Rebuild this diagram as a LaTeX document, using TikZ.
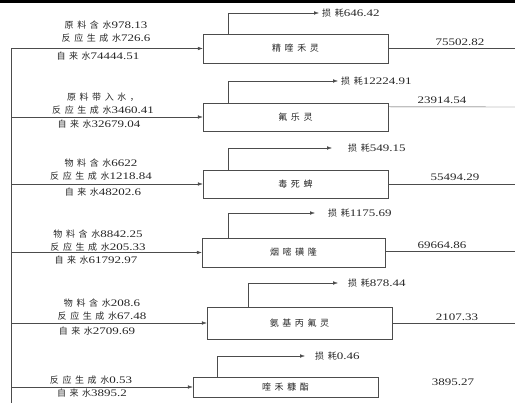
\documentclass[tikz,border=0pt]{standalone}
\usepackage{fontspec}
\setmainfont{Liberation Serif}[FakeStretch=1.3]
\newfontfamily\cjk[LetterSpace=40]{Noto Sans CJK SC}
\usetikzlibrary{arrows.meta,calc}
\newcommand{\zh}[1]{{\cjk\fontsize{9}{13}\selectfont #1}}

\begin{document}
\begin{tikzpicture}[x=1pt, y=-1pt, font=\fontsize{10}{13}\selectfont, text=black!85,
  proc/.style={draw=black!70, inner sep=0pt, minimum width=185pt},
  inlab/.style={align=center, inner sep=0pt},
  loss/.style={anchor=west, inner sep=3pt},
  outlab/.style={inner sep=0pt},
  line/.style={draw=black!70},
  arr/.style={line, -{Latex[length=5pt,width=3.5pt]}}]
\useasboundingbox (0,0) rectangle (515,403);
\clip (0,0) rectangle (515,403);
\draw[line width=3pt] (0,1.5) -- (515,1.5);

% process boxes
\node[proc, minimum height=29pt] (b1) at (295.5,48.5) {\zh{精喹禾灵}};
\node[proc, minimum height=28pt] (b2) at (295.5,117) {\zh{氟乐灵}};
\node[proc, minimum height=28pt] (b3) at (295.5,184) {\zh{毒死蜱}};
\node[proc, minimum width=183pt, minimum height=29pt] (b4) at (293.5,252.5) {\zh{烟嘧磺隆}};
\node[proc, minimum height=32pt] (b5) at (299.5,323) {\zh{氨基丙氟灵}};
\node[proc, minimum height=20pt] (b6) at (285.5,387) {\zh{喹禾糠酯}};

% water inputs
\coordinate (top) at (11,48.5);
\coordinate (bot) at (11,403);
\coordinate (s2) at (11,117);
\coordinate (s3) at (11,184);
\coordinate (s4) at (11,252.5);
\coordinate (s5) at (11,323);
\coordinate (s6) at (11,387);
\draw[line] (top) -- (bot);
\draw[arr] (top) -- (b1.west);
\draw[arr] (s2) -- (b2.west);
\draw[arr] (s3) -- (b3.west);
\draw[arr] (s4) -- (b4.west);
\draw[arr] (s5) -- (b5.west);
\draw[arr] (s6) -- (b6.west);

\node[inlab] (i1) at (106,31.5) {\zh{原料含水}978.13\\\zh{反应生成水}726.6};
\node[inlab] (w1) at (98,56) {\zh{自来水}74444.51};
\node[inlab] (i2) at (103,104) {\zh{原料带入水，}\\\zh{反应生成水}3460.41};
\node[inlab] (w2) at (99,124) {\zh{自来水}32679.04};
\node[inlab] (i3) at (101,170) {\zh{物料含水}6622\\\zh{反应生成水}1218.84};
\node[inlab] (w3) at (103,192) {\zh{自来水}48202.6};
\node[inlab] (i4) at (98,240.5) {\zh{物料含水}8842.25\\\zh{反应生成水}205.33};
\node[inlab] (w4) at (96,260) {\zh{自来水}61792.97};
\node[inlab] (i5) at (102,309.5) {\zh{物料含水}208.6\\\zh{反应生成水}67.48};
\node[inlab] (w5) at (97,331) {\zh{自来水}2709.69};
\node[inlab] (i6) at (91,380) {\zh{反应生成水}0.53};
\node[inlab] (w6) at (92,393) {\zh{自来水}3895.2};

% losses
\node[loss] (l1) at (319,13) {\zh{损耗}646.42};
\node[loss] (l2) at (338,81) {\zh{损耗}12224.91};
\node[loss] (l3) at (345,148) {\zh{损耗}549.15};
\node[loss] (l4) at (325,213) {\zh{损耗}1175.69};
\node[loss] (l5) at (345,283) {\zh{损耗}878.44};
\node[loss] (l6) at (312,356) {\zh{损耗}0.46};
\draw[arr] ($(b1.north west)+(25,0)$) |- (l1.west);
\draw[arr] ($(b2.north west)+(25,0)$) |- (l2.west);
\draw[arr, shorten >=13pt] ($(b3.north west)+(25,0)$) |- (l3.west);
\draw[arr, shorten >=10pt] ($(b4.north west)+(26,0)$) |- (l4.west);
\draw[arr, shorten >=7pt] ($(b5.north west)+(41,0)$) |- (l5.west);
\draw[arr, shorten >=7pt] ($(b6.north west)+(24,0)$) |- (l6.west);

% products
\coordinate (e1) at (515,48.5);
\coordinate (e2) at (515,107);
\coordinate (e3) at (515,184);
\coordinate (e4) at (515,251);
\coordinate (e5) at (515,323);
\draw[line] (b1.east) -- (e1);
\draw[line] ($(b2.north east)+(0,4)$) -- (e2);
\draw[line] (b3.east) -- (e3);
\draw[line] ($(b4.east)+(0,-1.5)$) -- (e4);
\draw[line] (b5.east) -- (e5);
\node[outlab] (o1) at (460,42) {75502.82};
\node[outlab] (o2) at (442,100) {23914.54};
\node[outlab] (o3) at (455,177) {55494.29};
\node[outlab] (o4) at (442,245) {69664.86};
\node[outlab] (o5) at (457,317) {2107.33};
\node[outlab] (o6) at (453,382) {3895.27};
\end{tikzpicture}
\end{document}
